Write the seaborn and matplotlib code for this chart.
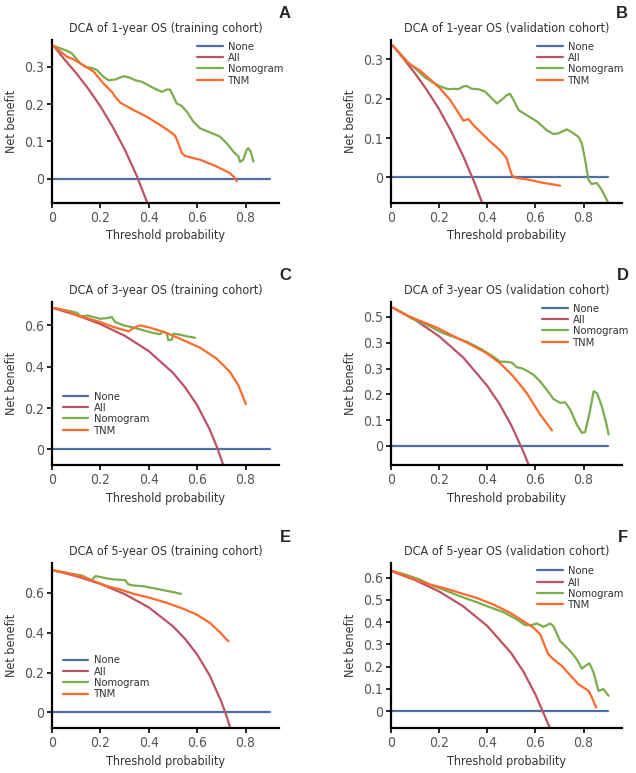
import pandas as pd
import matplotlib
matplotlib.use("Agg")
import matplotlib.pyplot as plt
from matplotlib import font_manager
import seaborn as sns

# ---- data ----
MODELS = ["None", "All", "Nomogram", "TNM"]
COLORS = {"None": "#4e6ea8", "All": "#bd5263", "Nomogram": "#7aad4c", "TNM": "#ff6a2c"}

NONE_X = [0.0, 0.9]
NONE_Y = [0.0, 0.0]

# A: 1-year OS, training
A_ALL_X = [0.007, 0.05, 0.1, 0.15, 0.2, 0.25, 0.3, 0.35, 0.4]
A_ALL_Y = [0.356, 0.321, 0.283, 0.241, 0.194, 0.140, 0.079, 0.008, -0.075]
A_NOM_X = [0.007, 0.062, 0.082, 0.117, 0.137, 0.165, 0.186, 0.213, 0.234, 0.261, 0.296, 0.316,
           0.344, 0.371, 0.405, 0.433, 0.454, 0.474, 0.488, 0.502, 0.515, 0.536, 0.557, 0.584,
           0.612, 0.646, 0.694, 0.722, 0.749, 0.770, 0.777, 0.790, 0.804, 0.811, 0.821, 0.832]
A_NOM_Y = [0.356, 0.343, 0.336, 0.309, 0.300, 0.297, 0.291, 0.273, 0.264, 0.266, 0.275, 0.272,
           0.264, 0.260, 0.248, 0.239, 0.233, 0.239, 0.239, 0.220, 0.202, 0.195, 0.180, 0.153,
           0.135, 0.126, 0.113, 0.095, 0.073, 0.060, 0.045, 0.051, 0.077, 0.082, 0.073, 0.046]
A_TNM_X = [0.007, 0.062, 0.089, 0.131, 0.172, 0.213, 0.247, 0.261, 0.282, 0.337, 0.392, 0.447,
           0.488, 0.509, 0.522, 0.536, 0.550, 0.612, 0.680, 0.735, 0.756, 0.763]
A_TNM_Y = [0.356, 0.327, 0.320, 0.304, 0.287, 0.255, 0.233, 0.220, 0.204, 0.184, 0.166, 0.144,
           0.126, 0.115, 0.095, 0.069, 0.061, 0.051, 0.033, 0.015, 0.002, -0.007]

# B: 1-year OS, validation
B_ALL_X = [0.007, 0.05, 0.1, 0.15, 0.2, 0.25, 0.3, 0.35, 0.385]
B_ALL_Y = [0.335, 0.303, 0.264, 0.221, 0.173, 0.117, 0.054, -0.018, -0.075]
B_NOM_X = [0.007, 0.037, 0.072, 0.107, 0.141, 0.169, 0.204, 0.238, 0.259, 0.280, 0.301, 0.315,
           0.336, 0.363, 0.391, 0.412, 0.440, 0.460, 0.481, 0.495, 0.509, 0.530, 0.564, 0.606,
           0.647, 0.675, 0.696, 0.731, 0.758, 0.779, 0.793, 0.807, 0.821, 0.834, 0.855, 0.876, 0.904]
B_NOM_Y = [0.335, 0.315, 0.292, 0.273, 0.254, 0.243, 0.231, 0.224, 0.225, 0.224, 0.231, 0.232,
           0.225, 0.224, 0.218, 0.205, 0.188, 0.197, 0.209, 0.212, 0.197, 0.171, 0.158, 0.142,
           0.120, 0.110, 0.112, 0.122, 0.112, 0.103, 0.086, 0.044, -0.007, -0.017, -0.014, -0.032, -0.066]
B_TNM_X = [0.007, 0.072, 0.121, 0.162, 0.204, 0.245, 0.273, 0.301, 0.322, 0.342, 0.377, 0.412,
           0.453, 0.481, 0.491, 0.502, 0.516, 0.564, 0.634, 0.703]
B_TNM_Y = [0.335, 0.290, 0.271, 0.249, 0.226, 0.197, 0.171, 0.144, 0.148, 0.133, 0.112, 0.091,
           0.069, 0.048, 0.027, 0.006, -0.001, -0.005, -0.014, -0.021]

# C: 3-year OS, training
C_ALL_X = [0.007, 0.1, 0.2, 0.3, 0.4, 0.5, 0.55, 0.6, 0.65, 0.68, 0.7, 0.71]
C_ALL_Y = [0.683, 0.650, 0.606, 0.550, 0.475, 0.370, 0.300, 0.213, 0.100, 0.016, -0.050, -0.086]
C_NOM_X = [0.007, 0.062, 0.103, 0.117, 0.137, 0.147, 0.172, 0.199, 0.227, 0.247, 0.261, 0.296,
           0.337, 0.378, 0.419, 0.447, 0.460, 0.474, 0.481, 0.495, 0.502, 0.529, 0.557, 0.591]
C_NOM_Y = [0.684, 0.672, 0.661, 0.645, 0.645, 0.648, 0.640, 0.632, 0.635, 0.640, 0.616, 0.600,
           0.589, 0.576, 0.563, 0.557, 0.571, 0.560, 0.528, 0.531, 0.560, 0.555, 0.547, 0.540]
C_TNM_X = [0.007, 0.062, 0.110, 0.144, 0.199, 0.254, 0.316, 0.337, 0.364, 0.405, 0.474, 0.543,
           0.612, 0.680, 0.735, 0.770, 0.801]
C_TNM_Y = [0.684, 0.669, 0.645, 0.635, 0.616, 0.592, 0.571, 0.587, 0.600, 0.589, 0.563, 0.528,
           0.492, 0.439, 0.375, 0.310, 0.219]

# D: 3-year OS, validation
D_ALL_X = [0.007, 0.1, 0.2, 0.3, 0.4, 0.45, 0.5, 0.55, 0.575]
D_ALL_Y = [0.536, 0.489, 0.425, 0.343, 0.233, 0.164, 0.080, -0.022, -0.080]
D_NOM_X = [0.007, 0.051, 0.086, 0.121, 0.162, 0.204, 0.259, 0.315, 0.370, 0.426, 0.453, 0.481,
           0.502, 0.523, 0.544, 0.564, 0.592, 0.620, 0.647, 0.675, 0.703, 0.724, 0.745, 0.772,
           0.793, 0.807, 0.828, 0.842, 0.856, 0.876, 0.894, 0.904]
D_NOM_Y = [0.536, 0.515, 0.494, 0.481, 0.464, 0.442, 0.423, 0.404, 0.378, 0.346, 0.327, 0.326,
           0.323, 0.305, 0.301, 0.292, 0.276, 0.250, 0.218, 0.182, 0.167, 0.169, 0.141, 0.083,
           0.051, 0.054, 0.141, 0.212, 0.205, 0.154, 0.090, 0.045]
D_TNM_X = [0.007, 0.065, 0.121, 0.190, 0.259, 0.329, 0.398, 0.453, 0.509, 0.564, 0.620, 0.669]
D_TNM_Y = [0.536, 0.506, 0.485, 0.459, 0.426, 0.394, 0.359, 0.321, 0.269, 0.205, 0.122, 0.060]

# E: 5-year OS, training
E_ALL_X = [0.007, 0.1, 0.2, 0.3, 0.4, 0.5, 0.55, 0.6, 0.65, 0.7, 0.72, 0.735]
E_ALL_Y = [0.713, 0.684, 0.645, 0.594, 0.527, 0.432, 0.369, 0.290, 0.189, 0.053, -0.014, -0.072]
E_NOM_X = [0.007, 0.062, 0.124, 0.144, 0.165, 0.179, 0.199, 0.227, 0.261, 0.302, 0.316, 0.337,
           0.378, 0.433, 0.488, 0.533]
E_NOM_Y = [0.712, 0.700, 0.687, 0.675, 0.664, 0.684, 0.680, 0.672, 0.667, 0.664, 0.642, 0.637,
           0.633, 0.620, 0.607, 0.595]
E_TNM_X = [0.007, 0.062, 0.117, 0.172, 0.227, 0.282, 0.337, 0.405, 0.474, 0.543, 0.598, 0.653,
           0.694, 0.729]
E_TNM_Y = [0.712, 0.700, 0.684, 0.659, 0.634, 0.617, 0.595, 0.575, 0.550, 0.520, 0.491, 0.449,
           0.402, 0.357]

# F: 5-year OS, validation
F_ALL_X = [0.007, 0.1, 0.2, 0.3, 0.4, 0.5, 0.55, 0.6, 0.63, 0.662]
F_ALL_Y = [0.627, 0.589, 0.538, 0.471, 0.383, 0.260, 0.178, 0.075, 0.000, -0.080]
F_NOM_X = [0.007, 0.065, 0.121, 0.162, 0.218, 0.287, 0.356, 0.398, 0.467, 0.523, 0.557, 0.585,
           0.606, 0.634, 0.661, 0.675, 0.703, 0.745, 0.772, 0.793, 0.807, 0.825, 0.842, 0.862,
           0.883, 0.904]
F_NOM_Y = [0.630, 0.612, 0.591, 0.569, 0.546, 0.516, 0.490, 0.472, 0.445, 0.412, 0.387, 0.387,
           0.394, 0.379, 0.394, 0.382, 0.315, 0.270, 0.233, 0.191, 0.203, 0.215, 0.173, 0.091,
           0.099, 0.069]
F_TNM_X = [0.007, 0.065, 0.121, 0.162, 0.218, 0.287, 0.356, 0.426, 0.495, 0.550, 0.592, 0.620,
           0.634, 0.654, 0.675, 0.710, 0.745, 0.779, 0.800, 0.821, 0.835, 0.853]
F_TNM_Y = [0.630, 0.606, 0.584, 0.569, 0.554, 0.531, 0.509, 0.479, 0.442, 0.404, 0.375, 0.345,
           0.307, 0.255, 0.233, 0.203, 0.161, 0.121, 0.106, 0.091, 0.061, 0.016]

X_TICKS = [0, 0.2, 0.4, 0.6, 0.8]
X_TICKLABELS = ["0", "0.2", "0.4", "0.6", "0.8"]

panels = [
    dict(letter="A", title="DCA of 1-year OS (training cohort)",
         all=(A_ALL_X, A_ALL_Y), nom=(A_NOM_X, A_NOM_Y), tnm=(A_TNM_X, A_TNM_Y),
         yticks=[0, 0.1, 0.2, 0.3], ylabels=["0", "0.1", "0.2", "0.3"]),
    dict(letter="B", title="DCA of 1-year OS (validation cohort)",
         all=(B_ALL_X, B_ALL_Y), nom=(B_NOM_X, B_NOM_Y), tnm=(B_TNM_X, B_TNM_Y),
         yticks=[0, 0.1, 0.2, 0.3], ylabels=["0", "0.1", "0.2", "0.3"]),
    dict(letter="C", title="DCA of 3-year OS (training cohort)",
         all=(C_ALL_X, C_ALL_Y), nom=(C_NOM_X, C_NOM_Y), tnm=(C_TNM_X, C_TNM_Y),
         yticks=[0, 0.2, 0.4, 0.6], ylabels=["0", "0.2", "0.4", "0.6"]),
    dict(letter="D", title="DCA of 3-year OS (validation cohort)",
         all=(D_ALL_X, D_ALL_Y), nom=(D_NOM_X, D_NOM_Y), tnm=(D_TNM_X, D_TNM_Y),
         yticks=[0, 0.1, 0.2, 0.3, 0.4, 0.5], ylabels=["0", "0.1", "0.2", "0.3", "0.3", "0.5"]),
    dict(letter="E", title="DCA of 5-year OS (training cohort)",
         all=(E_ALL_X, E_ALL_Y), nom=(E_NOM_X, E_NOM_Y), tnm=(E_TNM_X, E_TNM_Y),
         yticks=[0, 0.2, 0.4, 0.6], ylabels=["0", "0.2", "0.4", "0.6"]),
    dict(letter="F", title="DCA of 5-year OS (validation cohort)",
         all=(F_ALL_X, F_ALL_Y), nom=(F_NOM_X, F_NOM_Y), tnm=(F_TNM_X, F_TNM_Y),
         yticks=[0, 0.1, 0.2, 0.3, 0.4, 0.5, 0.6],
         ylabels=["0", "0.1", "0.2", "0.3", "0.4", "0.5", "0.6"]),
]

# layout (figure fractions) and per-panel limits / legend anchors
positions = [
    [0.0818, 0.7374, 0.3569, 0.2109], [0.6148, 0.7374, 0.3632, 0.2109],
    [0.0818, 0.3984, 0.3569, 0.2109], [0.6148, 0.3984, 0.3632, 0.2109],
    [0.0818, 0.0582, 0.3569, 0.2135], [0.6148, 0.0582, 0.3632, 0.2135],
]
xlims = [0.938, 0.96, 0.938, 0.96, 0.938, 0.96]
ylims = [(-0.065, 0.372), (-0.065, 0.349), (-0.076, 0.713),
         (-0.074, 0.558), (-0.078, 0.75), (-0.076, 0.666)]
legend_anchor = [(0.639, 0.99), (0.632, 0.99), (0.048, 0.45),
                 (0.654, 0.99), (0.048, 0.44), (0.632, 0.98)]
letter_pos = [(285, 13), (622, 13), (285, 275), (623, 275), (285, 537), (623, 538)]

# the reference uses a narrow sans: pick an installed condensed face if there is one
narrow = None
for f in font_manager.fontManager.ttflist:
    n = (f.name + " " + f.fname).lower()
    if ("narrow" in n or "condensed" in n) and "bold" not in n and "italic" not in n \
            and "oblique" not in n and "mono" not in n and "serif" not in f.name.lower():
        narrow = f
        break

sns.set_style("ticks")
plt.rcParams["axes.linewidth"] = 1.6
if narrow is not None:
    plt.rcParams["font.family"] = [narrow.name, "Liberation Sans", "DejaVu Sans"]
    plt.rcParams["font.stretch"] = narrow.stretch
    scale = 1.0
else:
    plt.rcParams["font.family"] = ["Liberation Sans", "DejaVu Sans"]
    scale = 0.95

fig = plt.figure(figsize=(6.36, 7.73), dpi=100)

for i, p in enumerate(panels):
    rows = []
    for x, y in zip(NONE_X, NONE_Y):
        rows.append(("None", x, y))
    for key, name in [("all", "All"), ("nom", "Nomogram"), ("tnm", "TNM")]:
        xs, ys = p[key]
        for x, y in zip(xs, ys):
            rows.append((name, x, y))
    df = pd.DataFrame(rows, columns=["model", "threshold", "benefit"])

    ax = fig.add_axes(positions[i])
    sns.lineplot(data=df, x="threshold", y="benefit", hue="model", hue_order=MODELS,
                 palette=COLORS, estimator=None, sort=False, linewidth=1.6, ax=ax)
    sns.despine(ax=ax)
    for s in ["left", "bottom"]:
        ax.spines[s].set_color("black")
        ax.spines[s].set_linewidth(1.6)

    ax.set_xlim(0, xlims[i])
    ax.set_ylim(*ylims[i])
    ax.set_xticks(X_TICKS)
    ax.set_xticklabels(X_TICKLABELS)
    ax.set_yticks(p["yticks"])
    ax.set_yticklabels(p["ylabels"])
    ax.tick_params(axis="both", length=3.5, width=1.2, color="black",
                   labelcolor="#555555", labelsize=10 * scale, pad=2.5)

    ax.set_xlabel("Threshold probability", fontsize=9 * scale, color="#333333", labelpad=3)
    ax.set_ylabel("Net benefit", fontsize=9 * scale, color="#333333", labelpad=4)
    ax.set_title(p["title"], fontsize=9 * scale, color="#333333", pad=6)

    sns.move_legend(ax, "upper left", bbox_to_anchor=legend_anchor[i], title=None,
                    frameon=False, fontsize=8 * scale, handlelength=2.3, handletextpad=0.5,
                    labelspacing=0.12, borderpad=0, borderaxespad=0)
    for t in ax.get_legend().get_texts():
        t.set_color("#333333")

    lx, ly = letter_pos[i]
    fig.text(lx / 636, 1 - ly / 773, p["letter"], ha="center", va="center",
             fontsize=12, fontweight="bold", family=["Liberation Sans", "DejaVu Sans"],
             stretch="normal")

fig.savefig("out.png", dpi=100)
